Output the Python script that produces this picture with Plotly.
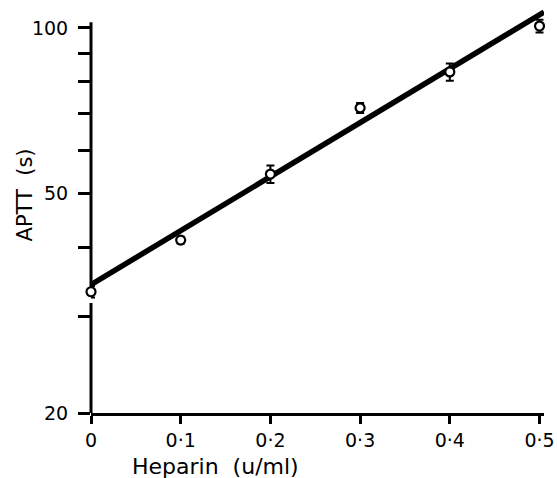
import plotly.graph_objects as go

heparin = [0.0, 0.1, 0.2, 0.3, 0.4, 0.5]
aptt = [33.2, 41.2, 54.3, 71.6, 83.2, 100.8]
aptt_err = [0.8, 0.6, 2.0, 1.5, 3.0, 2.7]
fit_x = [0.0, 0.505]
fit_y = [34.2, 106.9]

y_tickvals = [20, 30, 40, 50, 60, 70, 80, 90, 100]
y_ticktext = ["20", "", "", "50", "", "", "", "", "100"]
x_tickvals = [0, 0.1, 0.2, 0.3, 0.4, 0.5]
x_ticktext = ["0", "0·1", "0·2", "0·3", "0·4", "0·5"]

FONT = "DejaVu Sans"

fig = go.Figure()
fig.add_trace(go.Scatter(x=fit_x, y=fit_y, mode="lines",
                         line=dict(color="black", width=5.5), showlegend=False))
fig.add_trace(go.Scatter(
    x=heparin, y=aptt, mode="markers",
    marker=dict(symbol="circle", size=9, color="white",
                line=dict(color="black", width=2.2)),
    error_y=dict(type="data", array=aptt_err, color="black", thickness=2, width=4),
    cliponaxis=False, showlegend=False))

# y axis line with the small gap near the first point
for y0, y1 in [(0.0, 0.2696), (0.3088, 0.958)]:
    fig.add_shape(type="line", xref="paper", yref="paper", x0=0, x1=0, y0=y0, y1=y1,
                  line=dict(color="black", width=3))

fig.add_annotation(text="Heparin  (u/ml)", xref="paper", yref="paper", x=0.275, y=-0.13,
                   xanchor="center", yanchor="middle", showarrow=False,
                   font=dict(size=22, family=FONT, color="black"))
fig.add_annotation(text="APTT  (s)", xref="paper", yref="paper", x=-0.145, y=0.534,
                   xanchor="center", yanchor="middle", showarrow=False, textangle=-90,
                   font=dict(size=21, family=FONT, color="black"))

fig.update_layout(
    width=557, height=478,
    margin=dict(l=91, r=13, t=5, b=65, autoexpand=False),
    paper_bgcolor="white", plot_bgcolor="white",
    font=dict(family=FONT, color="black"),
    xaxis=dict(range=[0, 0.505], tickvals=x_tickvals, ticktext=x_ticktext,
               showgrid=False, zeroline=False, showline=True, linecolor="black",
               linewidth=3, ticks="outside", ticklen=8, tickwidth=2.5, tickcolor="black",
               tickfont=dict(size=19, family=FONT, color="black"), automargin=False),
    yaxis=dict(type="log", range=[1.30103, 2.0417], tickvals=y_tickvals, ticktext=y_ticktext,
               showgrid=False, zeroline=False, showline=False, automargin=False,
               ticks="outside", ticklen=12, tickwidth=2.5, tickcolor="black",
               ticklabelstandoff=6,
               tickfont=dict(size=19, family=FONT, color="black")),
)

fig.write_html("out.html", config={"displayModeBar": False},
               post_script="document.body.style.margin='0';")
